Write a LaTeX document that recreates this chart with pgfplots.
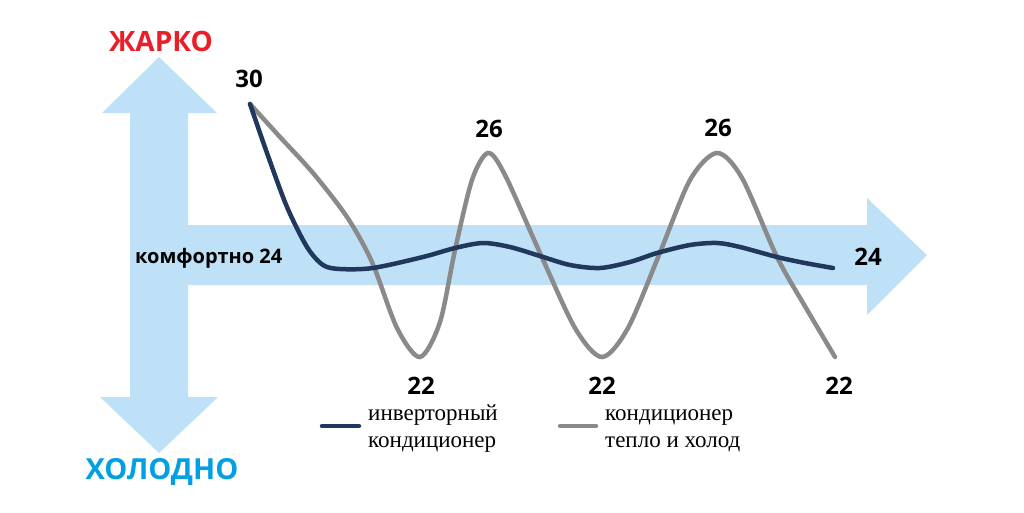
\documentclass[border=0pt]{standalone}
\usepackage{pgfplots}
\pgfplotsset{compat=1.18}
\usepackage{fontspec}
\setmainfont{Open Sans}
\newfontfamily\legfont{Liberation Serif}

\definecolor{arrowblue}{RGB}{190,225,247}
\definecolor{navy}{RGB}{31,56,92}
\definecolor{lgray}{RGB}{138,138,138}
\definecolor{hotred}{RGB}{232,30,40}
\definecolor{coldblue}{RGB}{0,160,227}

\begin{document}
\begin{tikzpicture}
\begin{axis}[
width=1024pt,
height=512pt,
scale only axis,
xmin=0, xmax=1024,
ymin=0, ymax=512,
y dir=reverse,
hide axis,
clip=false
]
\path (rel axis cs:0,0) rectangle (rel axis cs:1,1);

% arrows
\addplot[fill=arrowblue, draw=none] coordinates {
(130,113) (102,113) (159,57) (217,113) (188,113) (188,225) (867,225)
(867,198) (927,255) (867,315) (867,285) (188,285) (188,397) (218,397)
(159,453) (100,397) (130,397)} --cycle;

% on/off unit
\addplot[smooth, tension=0.5, color=lgray, line width=4.5pt, line cap=round] coordinates {
(250,104) (280,137) (313,173) (347,217) (372,262) (397,328) (420,357)
(440,322) (455,250) (472,180) (488,153) (505,175) (540,253) (575,328)
(602,357) (628,328) (659,255) (690,180) (717,153) (742,178) (777,257)
(806,308) (835,357)};

% inverter unit
\addplot[smooth, tension=0.5, color=navy, line width=4.5pt, line cap=round] coordinates {
(250,104) (267,153) (287,207) (307,247) (323,265) (340,269) (373,268)
(423,257) (455,248) (483,243) (510,247) (540,256) (570,265) (600,268)
(630,262) (657,253) (690,245) (717,243) (740,247) (777,257) (805,263)
(833,268)};

% legend lines
\addplot[color=navy, line width=4.5pt, line cap=round] coordinates {(322,426) (359,426)};
\addplot[color=lgray, line width=4.5pt, line cap=round] coordinates {(560,426) (596,426)};

\node[font=\fontsize{28}{28}\selectfont\bfseries, text=hotred, anchor=base] at (axis cs:161,51) {ЖАРКО};
\node[font=\fontsize{29}{29}\selectfont\bfseries, text=coldblue, anchor=base] at (axis cs:162,479) {ХОЛОДНО};

\node[font=\fontsize{24}{24}\selectfont\bfseries] at (axis cs:249,79) {30};
\node[font=\fontsize{24}{24}\selectfont\bfseries] at (axis cs:489,129) {26};
\node[font=\fontsize{24}{24}\selectfont\bfseries] at (axis cs:718,128) {26};
\node[font=\fontsize{24}{24}\selectfont\bfseries] at (axis cs:421,386) {22};
\node[font=\fontsize{24}{24}\selectfont\bfseries] at (axis cs:602,386) {22};
\node[font=\fontsize{24}{24}\selectfont\bfseries] at (axis cs:839,386) {22};
\node[font=\fontsize{24}{24}\selectfont\bfseries] at (axis cs:868,257) {24};
\node[font=\fontsize{20}{20}\selectfont\bfseries, anchor=base west, inner sep=0pt] at (axis cs:135,263) {комфортно 24};

\node[font=\fontsize{23}{23}\selectfont\legfont, anchor=base west, inner sep=0pt] at (axis cs:368,420) {инверторный};
\node[font=\fontsize{23}{23}\selectfont\legfont, anchor=base west, inner sep=0pt] at (axis cs:368,447) {кондиционер};
\node[font=\fontsize{23}{23}\selectfont\legfont, anchor=base west, inner sep=0pt] at (axis cs:605,420) {кондиционер};
\node[font=\fontsize{23}{23}\selectfont\legfont, anchor=base west, inner sep=0pt] at (axis cs:605,447) {тепло и холод};
\end{axis}
\end{tikzpicture}
\end{document}
